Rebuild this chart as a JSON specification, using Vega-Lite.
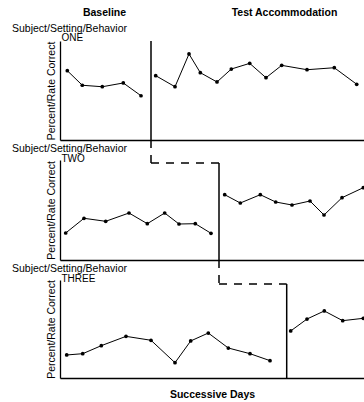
{
  "$schema": "https://vega.github.io/schema/vega-lite/v6.json",
  "background": "white",
  "padding": {"left": 12, "top": 0, "right": 0, "bottom": 0},
  "autosize": {"type": "pad"},
  "datasets": {
    "scores": [
      {"panel": "ONE", "phase": "Baseline", "day": 0.73, "value": 70.0},
      {"panel": "ONE", "phase": "Baseline", "day": 2.23, "value": 55.3},
      {"panel": "ONE", "phase": "Baseline", "day": 4.23, "value": 53.8},
      {"panel": "ONE", "phase": "Baseline", "day": 6.33, "value": 57.6},
      {"panel": "ONE", "phase": "Baseline", "day": 8.1, "value": 44.7},
      {"panel": "ONE", "phase": "Test Accommodation", "day": 9.57, "value": 65.0},
      {"panel": "ONE", "phase": "Test Accommodation", "day": 11.5, "value": 53.8},
      {"panel": "ONE", "phase": "Test Accommodation", "day": 12.9, "value": 86.9},
      {"panel": "ONE", "phase": "Test Accommodation", "day": 14.03, "value": 68.0},
      {"panel": "ONE", "phase": "Test Accommodation", "day": 15.7, "value": 58.6},
      {"panel": "ONE", "phase": "Test Accommodation", "day": 17.13, "value": 71.7},
      {"panel": "ONE", "phase": "Test Accommodation", "day": 18.97, "value": 77.4},
      {"panel": "ONE", "phase": "Test Accommodation", "day": 20.6, "value": 62.9},
      {"panel": "ONE", "phase": "Test Accommodation", "day": 22.17, "value": 75.4},
      {"panel": "ONE", "phase": "Test Accommodation", "day": 24.7, "value": 71.0},
      {"panel": "ONE", "phase": "Test Accommodation", "day": 27.43, "value": 73.0},
      {"panel": "ONE", "phase": "Test Accommodation", "day": 29.67, "value": 56.3},
      {"panel": "TWO", "phase": "Baseline", "day": 0.57, "value": 27.0},
      {"panel": "TWO", "phase": "Baseline", "day": 2.4, "value": 41.7},
      {"panel": "TWO", "phase": "Baseline", "day": 4.57, "value": 38.7},
      {"panel": "TWO", "phase": "Baseline", "day": 6.9, "value": 47.0},
      {"panel": "TWO", "phase": "Baseline", "day": 8.73, "value": 36.3},
      {"panel": "TWO", "phase": "Baseline", "day": 10.47, "value": 47.0},
      {"panel": "TWO", "phase": "Baseline", "day": 11.9, "value": 36.0},
      {"panel": "TWO", "phase": "Baseline", "day": 13.53, "value": 36.3},
      {"panel": "TWO", "phase": "Baseline", "day": 15.1, "value": 26.7},
      {"panel": "TWO", "phase": "Test Accommodation", "day": 16.47, "value": 65.3},
      {"panel": "TWO", "phase": "Test Accommodation", "day": 18.03, "value": 57.0},
      {"panel": "TWO", "phase": "Test Accommodation", "day": 20.03, "value": 65.3},
      {"panel": "TWO", "phase": "Test Accommodation", "day": 21.57, "value": 58.0},
      {"panel": "TWO", "phase": "Test Accommodation", "day": 23.2, "value": 55.0},
      {"panel": "TWO", "phase": "Test Accommodation", "day": 25.0, "value": 59.0},
      {"panel": "TWO", "phase": "Test Accommodation", "day": 26.4, "value": 45.0},
      {"panel": "TWO", "phase": "Test Accommodation", "day": 28.2, "value": 62.3},
      {"panel": "TWO", "phase": "Test Accommodation", "day": 30.33, "value": 72.3},
      {"panel": "THREE", "phase": "Baseline", "day": 0.67, "value": 23.5},
      {"panel": "THREE", "phase": "Baseline", "day": 2.27, "value": 24.8},
      {"panel": "THREE", "phase": "Baseline", "day": 4.13, "value": 33.0},
      {"panel": "THREE", "phase": "Baseline", "day": 6.6, "value": 42.5},
      {"panel": "THREE", "phase": "Baseline", "day": 9.1, "value": 38.5},
      {"panel": "THREE", "phase": "Baseline", "day": 11.5, "value": 15.6},
      {"panel": "THREE", "phase": "Baseline", "day": 13.07, "value": 37.8},
      {"panel": "THREE", "phase": "Baseline", "day": 14.83, "value": 45.9},
      {"panel": "THREE", "phase": "Baseline", "day": 16.83, "value": 30.6},
      {"panel": "THREE", "phase": "Baseline", "day": 19.0, "value": 24.8},
      {"panel": "THREE", "phase": "Baseline", "day": 21.0, "value": 17.7},
      {"panel": "THREE", "phase": "Test Accommodation", "day": 23.07, "value": 48.0},
      {"panel": "THREE", "phase": "Test Accommodation", "day": 24.7, "value": 60.2},
      {"panel": "THREE", "phase": "Test Accommodation", "day": 26.43, "value": 68.4},
      {"panel": "THREE", "phase": "Test Accommodation", "day": 28.27, "value": 58.5},
      {"panel": "THREE", "phase": "Test Accommodation", "day": 30.33, "value": 60.9}
    ],
    "phases": [
      {"panel": "ONE", "start": 9.1},
      {"panel": "TWO", "prev": 9.1, "start": 15.9},
      {"panel": "THREE", "prev": 15.9, "start": 22.67}
    ],
    "headers": [
      {"label": "Baseline", "day": 4.45},
      {"label": "Test Accommodation", "day": 22.45}
    ]
  },
  "spacing": 20,
  "bounds": "flush",
  "resolve": {"scale": {"x": "independent", "y": "independent"}, "axis": {"x": "independent", "y": "independent"}},
  "vconcat": [
    {
      "width": 304,
      "height": 21,
      "data": {"name": "headers"},
      "mark": {"type": "text", "fontWeight": "bold", "fontSize": 10.5, "baseline": "alphabetic", "dy": 5, "color": "black"},
      "encoding": {
        "x": {"field": "day", "type": "quantitative", "scale": {"domain": [0, 30.4], "nice": false, "zero": false}, "axis": null},
        "text": {"field": "label"}
      }
    },
    {
      "width": 304,
      "height": 99,
      "title": {"text": "Subject/Setting/Behavior", "offset": -1},
      "layer": [
        {
          "data": {"name": "scores"},
          "transform": [{"filter": "datum.panel === 'ONE'"}],
          "mark": {"type": "line", "color": "black", "strokeWidth": 1, "clip": true},
          "encoding": {
            "x": {"field": "day", "type": "quantitative", "scale": {"domain": [0, 30.4], "nice": false, "zero": false}, "axis": {"title": null}},
            "y": {"field": "value", "type": "quantitative", "scale": {"domain": [0, 100], "nice": false}, "axis": {"title": "Percent/Rate Correct"}},
            "detail": {"field": "phase"}
          }
        },
        {
          "data": {"name": "scores"},
          "transform": [{"filter": "datum.panel === 'ONE'"}],
          "mark": {"type": "point", "filled": true, "color": "black", "size": 14, "opacity": 1, "clip": true},
          "encoding": {
            "x": {"field": "day", "type": "quantitative"},
            "y": {"field": "value", "type": "quantitative"}
          }
        },
        {
          "data": {"name": "phases"},
          "transform": [{"filter": "datum.panel === 'ONE'"}],
          "mark": {"type": "rule", "color": "black", "strokeWidth": 1.5, "clip": false},
          "encoding": {
            "x": {"field": "start", "type": "quantitative"},
            "y": {"datum": 0},
            "y2": {"datum": 100}
          }
        },
        {
          "data": {"name": "phases"},
          "transform": [{"filter": "datum.panel === 'ONE'"}],
          "mark": {"type": "rule", "color": "black", "strokeWidth": 1.5, "strokeDash": [8, 7], "clip": false},
          "encoding": {
            "x": {"field": "start", "type": "quantitative"},
            "y": {"datum": 0},
            "y2": {"datum": -23.2}
          }
        },
        {
          "data": {"name": "phases"},
          "transform": [{"filter": "datum.panel === 'ONE'"}],
          "mark": {"type": "text", "align": "left", "baseline": "alphabetic", "dx": 1.5, "dy": 0, "fontSize": 10, "color": "black", "clip": false},
          "encoding": {
            "x": {"datum": 0},
            "y": {"datum": 100},
            "text": {"field": "panel"}
          }
        }
      ]
    },
    {
      "width": 304,
      "height": 100,
      "title": {"text": "Subject/Setting/Behavior", "offset": 0},
      "layer": [
        {
          "data": {"name": "scores"},
          "transform": [{"filter": "datum.panel === 'TWO'"}],
          "mark": {"type": "line", "color": "black", "strokeWidth": 1, "clip": true},
          "encoding": {
            "x": {"field": "day", "type": "quantitative", "scale": {"domain": [0, 30.4], "nice": false, "zero": false}, "axis": {"title": null}},
            "y": {"field": "value", "type": "quantitative", "scale": {"domain": [0, 100], "nice": false}, "axis": {"title": "Percent/Rate Correct"}},
            "detail": {"field": "phase"}
          }
        },
        {
          "data": {"name": "scores"},
          "transform": [{"filter": "datum.panel === 'TWO'"}],
          "mark": {"type": "point", "filled": true, "color": "black", "size": 14, "opacity": 1, "clip": true},
          "encoding": {
            "x": {"field": "day", "type": "quantitative"},
            "y": {"field": "value", "type": "quantitative"}
          }
        },
        {
          "data": {"name": "phases"},
          "transform": [{"filter": "datum.panel === 'TWO'"}],
          "mark": {"type": "rule", "color": "black", "strokeWidth": 1.5, "clip": false},
          "encoding": {
            "x": {"field": "start", "type": "quantitative"},
            "y": {"datum": 0},
            "y2": {"datum": 97}
          }
        },
        {
          "data": {"name": "phases"},
          "transform": [{"filter": "datum.panel === 'TWO'"}],
          "mark": {"type": "rule", "color": "black", "strokeWidth": 1.5, "strokeDash": [8, 7], "clip": false},
          "encoding": {
            "x": {"field": "start", "type": "quantitative"},
            "y": {"datum": 0},
            "y2": {"datum": -24}
          }
        },
        {
          "data": {"name": "phases"},
          "transform": [{"filter": "datum.panel === 'TWO'"}],
          "mark": {"type": "rule", "color": "black", "strokeWidth": 1.5, "strokeDash": [8, 7], "clip": false},
          "encoding": {
            "x": {"field": "prev", "type": "quantitative"},
            "x2": {"field": "start"},
            "y": {"datum": 97}
          }
        },
        {
          "data": {"name": "phases"},
          "transform": [{"filter": "datum.panel === 'TWO'"}],
          "mark": {"type": "text", "align": "left", "baseline": "alphabetic", "dx": 1.5, "dy": 2, "fontSize": 10, "color": "black", "clip": false},
          "encoding": {
            "x": {"datum": 0},
            "y": {"datum": 100},
            "text": {"field": "panel"}
          }
        }
      ]
    },
    {
      "width": 304,
      "height": 98,
      "title": {"text": "Subject/Setting/Behavior", "offset": 0},
      "layer": [
        {
          "data": {"name": "scores"},
          "transform": [{"filter": "datum.panel === 'THREE'"}],
          "mark": {"type": "line", "color": "black", "strokeWidth": 1, "clip": true},
          "encoding": {
            "x": {"field": "day", "type": "quantitative", "scale": {"domain": [0, 30.4], "nice": false, "zero": false}, "axis": {"title": "Successive Days", "titleFontWeight": "bold", "titlePadding": 11}},
            "y": {"field": "value", "type": "quantitative", "scale": {"domain": [0, 100], "nice": false}, "axis": {"title": "Percent/Rate Correct"}},
            "detail": {"field": "phase"}
          }
        },
        {
          "data": {"name": "scores"},
          "transform": [{"filter": "datum.panel === 'THREE'"}],
          "mark": {"type": "point", "filled": true, "color": "black", "size": 14, "opacity": 1, "clip": true},
          "encoding": {
            "x": {"field": "day", "type": "quantitative"},
            "y": {"field": "value", "type": "quantitative"}
          }
        },
        {
          "data": {"name": "phases"},
          "transform": [{"filter": "datum.panel === 'THREE'"}],
          "mark": {"type": "rule", "color": "black", "strokeWidth": 1.5, "clip": false},
          "encoding": {
            "x": {"field": "start", "type": "quantitative"},
            "y": {"datum": 0},
            "y2": {"datum": 95.9}
          }
        },
        {
          "data": {"name": "phases"},
          "transform": [{"filter": "datum.panel === 'THREE'"}],
          "mark": {"type": "rule", "color": "black", "strokeWidth": 1.5, "strokeDash": [8, 7], "clip": false},
          "encoding": {
            "x": {"field": "prev", "type": "quantitative"},
            "x2": {"field": "start"},
            "y": {"datum": 95.9}
          }
        },
        {
          "data": {"name": "phases"},
          "transform": [{"filter": "datum.panel === 'THREE'"}],
          "mark": {"type": "text", "align": "left", "baseline": "alphabetic", "dx": 1.5, "dy": 2, "fontSize": 10, "color": "black", "clip": false},
          "encoding": {
            "x": {"datum": 0},
            "y": {"datum": 100},
            "text": {"field": "panel"}
          }
        }
      ]
    }
  ],
  "config": {
    "font": "Liberation Sans",
    "view": {"stroke": null},
    "axis": {
      "grid": false,
      "ticks": false,
      "labels": false,
      "domainColor": "black",
      "domainWidth": 1.3,
      "titleFont": "Liberation Sans",
      "titleFontSize": 10.5,
      "titleFontWeight": "normal",
      "titleColor": "black"
    },
    "axisY": {"titlePadding": 4},
    "title": {
      "anchor": "start",
      "frame": "group",
      "dx": -48,
      "offset": 2,
      "font": "Liberation Sans",
      "fontSize": 10.5,
      "fontWeight": "normal",
      "color": "black"
    }
  }
}
